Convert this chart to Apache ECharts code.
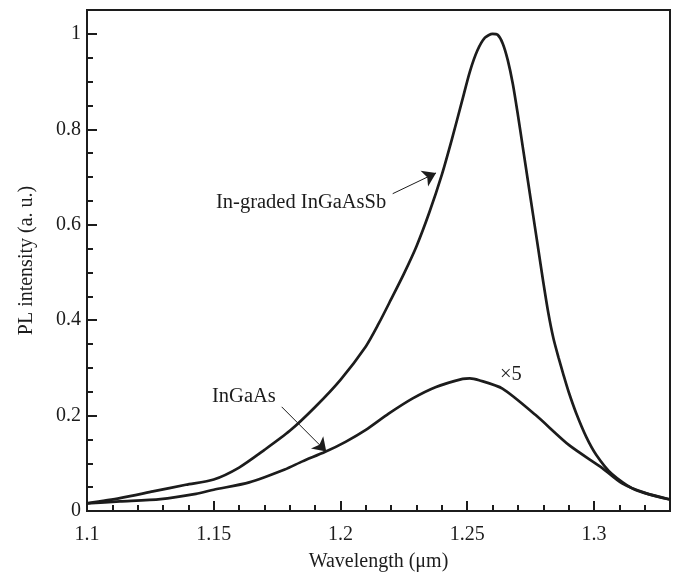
<!DOCTYPE html>
<html>
<head>
<meta charset="utf-8">
<script src="https://cdn.jsdelivr.net/npm/echarts@6/dist/echarts.min.js"></script>
<style>
html,body{margin:0;padding:0;background:#fff;}
#chart{width:677px;height:577px;}
</style>
</head>
<body>
<div id="chart"></div>
<script>
// Wavelength (µm) and PL intensity
const wavelengthSb = [1.100,1.113,1.126,1.139,1.150,1.160,1.170,1.180,1.190,1.200,1.210,1.215,1.220,1.225,1.230,1.235,1.240,1.244,1.248,1.251,1.254,1.257,1.260,1.262,1.264,1.266,1.268,1.270,1.272,1.274,1.276,1.278,1.280,1.282,1.284,1.286,1.288,1.290,1.293,1.297,1.301,1.307,1.316,1.330];
const intensitySb  = [0.016,0.027,0.041,0.055,0.066,0.091,0.128,0.168,0.218,0.275,0.345,0.392,0.444,0.497,0.555,0.625,0.705,0.780,0.860,0.920,0.965,0.992,1.000,0.998,0.980,0.945,0.895,0.830,0.760,0.690,0.620,0.550,0.480,0.415,0.362,0.322,0.285,0.250,0.205,0.155,0.117,0.078,0.045,0.024];

const wavelengthAs = [1.100,1.113,1.129,1.143,1.150,1.164,1.178,1.185,1.194,1.202,1.210,1.219,1.2285,1.2377,1.2482,1.251,1.2547,1.2639,1.277,1.2902,1.3033,1.3111,1.3204,1.330];
const intensityAs  = [0.016,0.020,0.025,0.036,0.0445,0.060,0.087,0.104,0.124,0.145,0.170,0.204,0.236,0.260,0.277,0.278,0.274,0.2565,0.201,0.138,0.090,0.058,0.0375,0.024];

const xMin = 1.1, xMax = 1.33, xMajor = 0.05, xMinor = 0.01;
const yMin = 0, yMax = 1.05, yMajor = 0.2, yMinor = 0.05;

const seriesNames = ['In-graded InGaAsSb', 'InGaAs'];
const annotationTexts = ['In-graded InGaAsSb', 'InGaAs', '×5'];
// arrows in data space: [tailX, tailY, tipX, tipY]
const arrowSb = [1.2206, 0.665, 1.2377, 0.7085];
const arrowAs = [1.1768, 0.2183, 1.1944, 0.1245];

const FONT = '"Liberation Serif", "Times New Roman", serif';
const INK = '#1c1c1c';

function zip(a, b) { return a.map((v, i) => [v, b[i]]); }

const chart = echarts.init(document.getElementById('chart'), null, {renderer: 'canvas'});

const majorTick = {show: true, inside: true, length: 10, lineStyle: {color: INK, width: 2}};
const minorTickStyle = {show: true, inside: true, length: 6, lineStyle: {color: INK, width: 2}};

function arrowMarkLine(a) {
  return {
    silent: true,
    symbol: ['none', 'arrow'],
    symbolSize: 13,
    label: {show: false},
    lineStyle: {color: INK, width: 1, type: 'solid'},
    emphasis: {disabled: true},
    data: [[{coord: [a[0], a[1]]}, {coord: [a[2], a[3]]}]]
  };
}

chart.setOption({
  animation: false,
  backgroundColor: '#fff',
  grid: {left: 87, right: 7, top: 10, bottom: 64, show: true, borderColor: INK, borderWidth: 2, backgroundColor: 'transparent'},
  xAxis: [
    {
      type: 'value', min: xMin, max: xMax, interval: xMajor, position: 'bottom',
      name: 'Wavelength (μm)', nameLocation: 'middle', nameGap: 41,
      nameTextStyle: {fontFamily: FONT, fontSize: 20, color: INK},
      axisLine: {show: true, lineStyle: {color: INK, width: 2}},
      axisTick: majorTick,
      axisLabel: {showMaxLabel: false, fontFamily: FONT, fontSize: 20, color: INK, margin: 14},
      splitLine: {show: false}
    },
    {
      type: 'value', min: xMin, max: xMax, interval: xMinor, position: 'bottom',
      axisLine: {show: false}, axisTick: minorTickStyle, axisLabel: {show: false}, splitLine: {show: false}
    }
  ],
  yAxis: [
    {
      type: 'value', min: yMin, max: yMax, interval: yMajor, position: 'left',
      name: 'PL intensity (a. u.)', nameLocation: 'middle', nameGap: 50,
      nameTextStyle: {fontFamily: FONT, fontSize: 20, color: INK},
      axisLine: {show: true, lineStyle: {color: INK, width: 2}},
      axisTick: majorTick,
      axisLabel: {showMaxLabel: false, fontFamily: FONT, fontSize: 20, color: INK, margin: 6},
      splitLine: {show: false}
    },
    {
      type: 'value', min: yMin, max: yMax, interval: yMinor, position: 'left',
      axisLine: {show: false}, axisTick: minorTickStyle, axisLabel: {show: false}, splitLine: {show: false}
    }
  ],
  series: [
    {
      name: seriesNames[0], type: 'line', xAxisIndex: 0, yAxisIndex: 0,
      data: zip(wavelengthSb, intensitySb), showSymbol: false, smooth: 0.25,
      lineStyle: {color: INK, width: 2.7}, emphasis: {disabled: true},
      markLine: arrowMarkLine(arrowSb)
    },
    {
      name: seriesNames[1], type: 'line', xAxisIndex: 0, yAxisIndex: 0,
      data: zip(wavelengthAs, intensityAs), showSymbol: false, smooth: 0.25,
      lineStyle: {color: INK, width: 2.7}, emphasis: {disabled: true},
      markLine: arrowMarkLine(arrowAs)
    }
  ],
  graphic: [
    {type: 'text', left: 216, top: 192, style: {text: annotationTexts[0], font: '20.5px ' + FONT, fill: INK}},
    {type: 'text', left: 212, top: 386, style: {text: annotationTexts[1], font: '20.5px ' + FONT, fill: INK}},
    {type: 'text', left: 500, top: 364, style: {text: annotationTexts[2], font: '20.5px ' + FONT, fill: INK}}
  ]
});
</script>
</body>
</html>
